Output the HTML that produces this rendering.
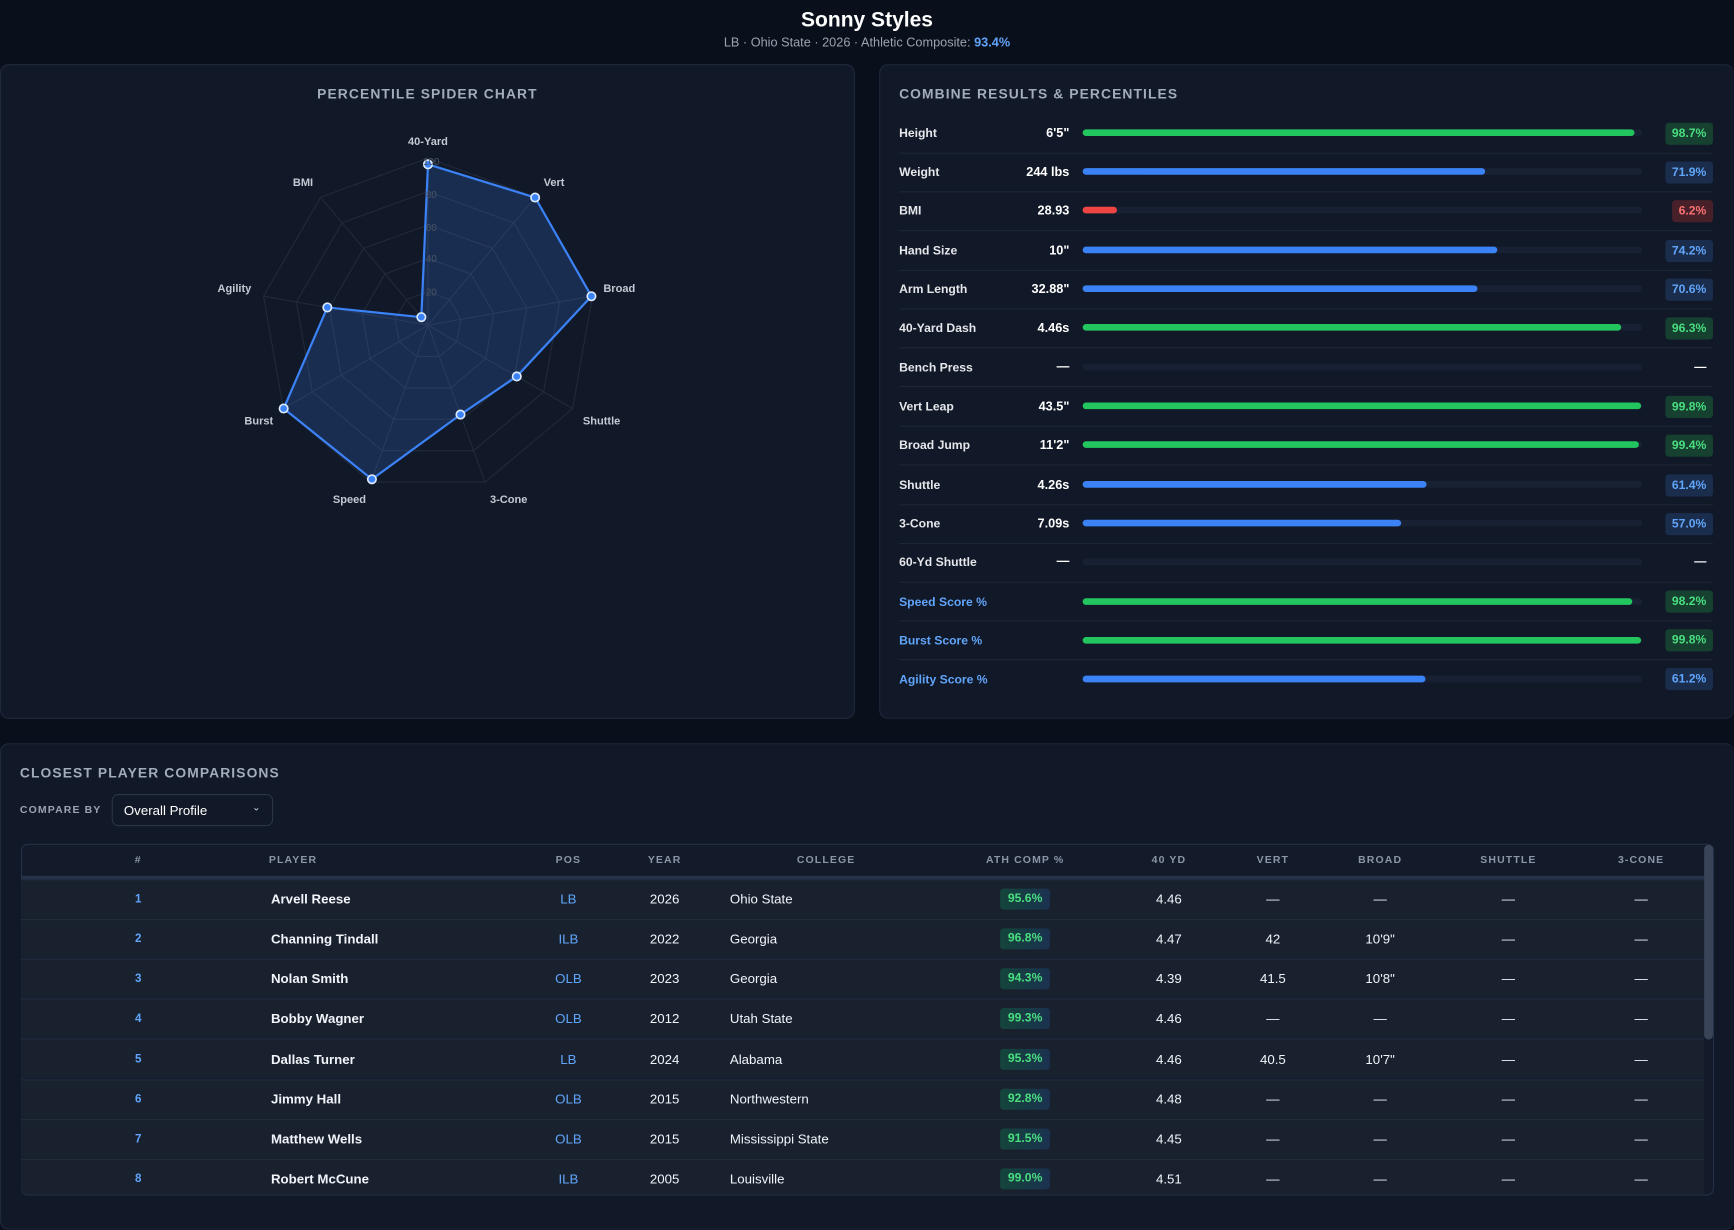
<!DOCTYPE html>
<html><head><meta charset="utf-8">
<style>
*{margin:0;padding:0;box-sizing:border-box}
html,body{width:1734px;height:1214px;overflow:hidden;background:#0a0f1c;font-family:"Liberation Sans",sans-serif}
#w{position:absolute;left:0;top:0;width:1568px;height:1098px;transform:scale(1.10587);transform-origin:0 0;background:#0a0f1c;color:#e5e7eb}
.a{position:absolute;white-space:nowrap}
.panel{position:absolute;background:#111827;border:1px solid #1f2a3d;border-radius:8px}
.ttl{font-size:12.5px;font-weight:bold;letter-spacing:1px;color:#a3acba}
.lab{left:813px;font-size:11px;font-weight:bold;color:#e5e7eb;transform:translateY(-50%)}
.val{right:601px;font-size:11.5px;font-weight:bold;color:#fff;transform:translateY(-50%)}
.trk{left:979px;width:506px;height:6px;border-radius:3px;background:#182033;transform:translateY(-50%)}
.fill{position:absolute;left:0;top:0;height:6px;border-radius:3px}
.bdg{right:19px;height:20px;line-height:20px;padding:0 6px;border-radius:3px;font-size:11px;font-weight:bold;transform:translateY(-50%)}
.g{background:#16402f;color:#4ade80}.b{background:#1b2d4d;color:#60a5fa}.r{background:#47202a;color:#f87171}
.sep{left:813px;width:736px;height:1px;background:#1d2637}
.th{font-size:9.5px;font-weight:bold;letter-spacing:1px;color:#8b95a5;transform:translate(-50%,-50%)}
.td{font-size:12px;color:#f1f5f9;transform:translate(-50%,-50%)}
.tl{font-size:12px;color:#f1f5f9;transform:translateY(-50%)}
.row{position:absolute;left:19px;width:1522px;height:36px;border-top:1px solid #222c3f;background:#19212f}
.pb{font-size:11px;font-weight:bold;color:#4ade80;background:linear-gradient(90deg,#14453a,#1b3150);padding:0 7px;height:19px;line-height:19px;border-radius:3px;transform:translate(-50%,-50%)}
</style></head><body><div id="w">
<div class="a" style="left:0;width:1568px;top:8px;text-align:center;font-size:19px;font-weight:bold;color:#fff">Sonny Styles</div>
<div class="a" style="left:0;width:1568px;top:33px;text-align:center;font-size:11.5px;color:#9ca3af">LB · Ohio State · 2026 · Athletic Composite: <b style="color:#60a5fa">93.4%</b></div>

<div class="panel" style="left:0;top:58px;width:773px;height:592px"></div>
<div class="a ttl" style="left:0;width:773px;top:78px;text-align:center">PERCENTILE SPIDER CHART</div>
<svg class="a" style="left:0;top:0" width="773" height="650">
<g transform="translate(387,294)" fill="none" stroke="#222a3a" stroke-width="1">
<polygon vector-effect="non-scaling-stroke" transform="scale(.302)" points="0,-100 64.28,-76.6 98.48,-17.36 86.6,50 34.2,93.97 -34.2,93.97 -86.6,50 -98.48,-17.36 -64.28,-76.6"/>
<polygon vector-effect="non-scaling-stroke" transform="scale(.604)" points="0,-100 64.28,-76.6 98.48,-17.36 86.6,50 34.2,93.97 -34.2,93.97 -86.6,50 -98.48,-17.36 -64.28,-76.6"/>
<polygon vector-effect="non-scaling-stroke" transform="scale(.906)" points="0,-100 64.28,-76.6 98.48,-17.36 86.6,50 34.2,93.97 -34.2,93.97 -86.6,50 -98.48,-17.36 -64.28,-76.6"/>
<polygon vector-effect="non-scaling-stroke" transform="scale(1.208)" points="0,-100 64.28,-76.6 98.48,-17.36 86.6,50 34.2,93.97 -34.2,93.97 -86.6,50 -98.48,-17.36 -64.28,-76.6"/>
<polygon vector-effect="non-scaling-stroke" transform="scale(1.51)" points="0,-100 64.28,-76.6 98.48,-17.36 86.6,50 34.2,93.97 -34.2,93.97 -86.6,50 -98.48,-17.36 -64.28,-76.6"/>
<path d="M0 0L0 -151M0 0L97.1 -115.7M0 0L148.7 -26.2M0 0L130.8 75.5M0 0L51.6 141.9M0 0L-51.6 141.9M0 0L-130.8 75.5M0 0L-148.7 -26.2M0 0L-97.1 -115.7"/>
<polygon points="0,-145.4 96.9,-115.4 147.8,-26.1 80.3,46.4 29.4,80.9 -50.7,139.4 -130.5,75.4 -91,-16 -6,-7.2" fill="rgba(59,130,246,0.2)" stroke="#3b82f6" stroke-width="2" stroke-linejoin="round"/>
<g fill="#3b82f6" stroke="#dbeafe" stroke-width="1.5">
<circle cx="0" cy="-145.4" r="3.8"/><circle cx="96.9" cy="-115.4" r="3.8"/><circle cx="147.8" cy="-26.1" r="3.8"/><circle cx="80.3" cy="46.4" r="3.8"/><circle cx="29.4" cy="80.9" r="3.8"/><circle cx="-50.7" cy="139.4" r="3.8"/><circle cx="-130.5" cy="75.4" r="3.8"/><circle cx="-91" cy="-16" r="3.8"/><circle cx="-6" cy="-7.2" r="3.8"/>
</g>
</g>
<g font-family="Liberation Sans" font-size="9" fill="#4b5563" text-anchor="middle">
<text x="390" y="267">20</text><text x="390" y="237">40</text><text x="390" y="209">60</text><text x="390" y="179">80</text><text x="390" y="149">100</text>
</g>
<g font-family="Liberation Sans" font-size="10" font-weight="bold" fill="#c4cad4" text-anchor="middle">
<text x="387" y="131">40-Yard</text><text x="501" y="168">Vert</text><text x="560" y="264">Broad</text><text x="544" y="384">Shuttle</text><text x="460" y="455">3-Cone</text><text x="316" y="455">Speed</text><text x="234" y="384">Burst</text><text x="212" y="264">Agility</text><text x="274" y="168">BMI</text>
</g>
</svg>

<div class="panel" style="left:795px;top:58px;width:773px;height:592px;border-right:none"></div>
<div class="a ttl" style="left:813px;top:78px">COMBINE RESULTS &amp; PERCENTILES</div>

<div class="a lab" style="top:121px">Height</div><div class="a val" style="top:121px">6'5"</div><div class="a trk" style="top:120px"><div class="fill" style="width:98.7%;background:#22c55e"></div></div><div class="a bdg g" style="top:121px">98.7%</div><div class="a sep" style="top:138px"></div>
<div class="a lab" style="top:156px">Weight</div><div class="a val" style="top:156px">244 lbs</div><div class="a trk" style="top:155px"><div class="fill" style="width:71.9%;background:#3b82f6"></div></div><div class="a bdg b" style="top:156px">71.9%</div><div class="a sep" style="top:173px"></div>
<div class="a lab" style="top:191px">BMI</div><div class="a val" style="top:191px">28.93</div><div class="a trk" style="top:190px"><div class="fill" style="width:6.2%;background:#ef4444"></div></div><div class="a bdg r" style="top:191px">6.2%</div><div class="a sep" style="top:208px"></div>
<div class="a lab" style="top:227px">Hand Size</div><div class="a val" style="top:227px">10"</div><div class="a trk" style="top:226px"><div class="fill" style="width:74.2%;background:#3b82f6"></div></div><div class="a bdg b" style="top:227px">74.2%</div><div class="a sep" style="top:244px"></div>
<div class="a lab" style="top:262px">Arm Length</div><div class="a val" style="top:262px">32.88"</div><div class="a trk" style="top:261px"><div class="fill" style="width:70.6%;background:#3b82f6"></div></div><div class="a bdg b" style="top:262px">70.6%</div><div class="a sep" style="top:279px"></div>
<div class="a lab" style="top:297px">40-Yard Dash</div><div class="a val" style="top:297px">4.46s</div><div class="a trk" style="top:296px"><div class="fill" style="width:96.3%;background:#22c55e"></div></div><div class="a bdg g" style="top:297px">96.3%</div><div class="a sep" style="top:314px"></div>
<div class="a lab" style="top:333px">Bench Press</div><div class="a val" style="top:332px">—</div><div class="a trk" style="top:332px"></div><div class="a bdg" style="top:332px;color:#fff">—</div><div class="a sep" style="top:349px"></div>
<div class="a lab" style="top:368px">Vert Leap</div><div class="a val" style="top:368px">43.5"</div><div class="a trk" style="top:367px"><div class="fill" style="width:99.8%;background:#22c55e"></div></div><div class="a bdg g" style="top:368px">99.8%</div><div class="a sep" style="top:385px"></div>
<div class="a lab" style="top:403px">Broad Jump</div><div class="a val" style="top:403px">11'2"</div><div class="a trk" style="top:402px"><div class="fill" style="width:99.4%;background:#22c55e"></div></div><div class="a bdg g" style="top:403px">99.4%</div><div class="a sep" style="top:420px"></div>
<div class="a lab" style="top:439px">Shuttle</div><div class="a val" style="top:439px">4.26s</div><div class="a trk" style="top:438px"><div class="fill" style="width:61.4%;background:#3b82f6"></div></div><div class="a bdg b" style="top:439px">61.4%</div><div class="a sep" style="top:456px"></div>
<div class="a lab" style="top:474px">3-Cone</div><div class="a val" style="top:474px">7.09s</div><div class="a trk" style="top:473px"><div class="fill" style="width:57%;background:#3b82f6"></div></div><div class="a bdg b" style="top:474px">57.0%</div><div class="a sep" style="top:491px"></div>
<div class="a lab" style="top:509px">60-Yd Shuttle</div><div class="a val" style="top:508px">—</div><div class="a trk" style="top:508px"></div><div class="a bdg" style="top:508px;color:#fff">—</div><div class="a sep" style="top:526px"></div>
<div class="a lab" style="top:545px;color:#60a5fa">Speed Score %</div><div class="a trk" style="top:544px"><div class="fill" style="width:98.2%;background:#22c55e"></div></div><div class="a bdg g" style="top:544px">98.2%</div><div class="a sep" style="top:561px"></div>
<div class="a lab" style="top:580px;color:#60a5fa">Burst Score %</div><div class="a trk" style="top:579px"><div class="fill" style="width:99.8%;background:#22c55e"></div></div><div class="a bdg g" style="top:579px">99.8%</div><div class="a sep" style="top:596px"></div>
<div class="a lab" style="top:615px;color:#60a5fa">Agility Score %</div><div class="a trk" style="top:614px"><div class="fill" style="width:61.2%;background:#3b82f6"></div></div><div class="a bdg b" style="top:614px">61.2%</div>

<div class="panel" style="left:0;top:672px;width:1568px;height:440px;border-right:none"></div>
<div class="a ttl" style="left:18px;top:692px">CLOSEST PLAYER COMPARISONS</div>
<div class="a" style="left:18px;top:727px;font-size:9.5px;font-weight:bold;letter-spacing:1px;color:#9ca3af">COMPARE BY</div>
<div class="a" style="left:101px;top:718px;width:146px;height:29px;border:1px solid #2a3548;border-radius:6px;background:#111827"></div>
<div class="a" style="left:112px;top:726px;font-size:12px;color:#fff">Overall Profile</div>
<div class="a" style="left:228px;top:725px;font-size:9px;color:#cbd5e1">⌄</div>

<div class="a" style="left:19px;top:763px;width:1531px;height:318px;border:1px solid #243047;border-radius:6px;background:#131b2b;overflow:hidden">
</div>
<div class="a" style="left:19px;top:792px;width:1522px;height:3px;background:#26324a"></div>
<div class="row" style="top:795px"></div>
<div class="row" style="top:831px"></div>
<div class="row" style="top:867px"></div>
<div class="row" style="top:903px"></div>
<div class="row" style="top:939px"></div>
<div class="row" style="top:976px"></div>
<div class="row" style="top:1012px"></div>
<div class="row" style="top:1048px;height:32px;border-bottom-left-radius:6px"></div>
<div class="a" style="left:1541px;top:764px;width:8px;height:176px;border-radius:4px;background:#3a4458"></div>

<div class="a th" style="left:125px;top:778px">#</div>
<div class="a th" style="left:265px;top:778px">PLAYER</div>
<div class="a th" style="left:514px;top:778px">POS</div>
<div class="a th" style="left:601px;top:778px">YEAR</div>
<div class="a th" style="left:747px;top:778px">COLLEGE</div>
<div class="a th" style="left:927px;top:778px">ATH COMP %</div>
<div class="a th" style="left:1057px;top:778px">40 YD</div>
<div class="a th" style="left:1151px;top:778px">VERT</div>
<div class="a th" style="left:1248px;top:778px">BROAD</div>
<div class="a th" style="left:1364px;top:778px">SHUTTLE</div>
<div class="a th" style="left:1484px;top:778px">3-CONE</div>

<div class="a td" style="left:125px;top:813px;color:#60a5fa;font-size:10.5px;font-weight:bold">1</div><div class="a tl" style="left:245px;top:813px;font-weight:bold">Arvell Reese</div><div class="a td" style="left:514px;top:813px;color:#60a5fa">LB</div><div class="a td" style="left:601px;top:813px">2026</div><div class="a tl" style="left:660px;top:813px">Ohio State</div><div class="a pb" style="left:927px;top:813px">95.6%</div><div class="a td" style="left:1057px;top:813px">4.46</div><div class="a td" style="left:1151px;top:813px">—</div><div class="a td" style="left:1248px;top:813px">—</div><div class="a td" style="left:1364px;top:813px">—</div><div class="a td" style="left:1484px;top:813px">—</div>
<div class="a td" style="left:125px;top:849px;color:#60a5fa;font-size:10.5px;font-weight:bold">2</div><div class="a tl" style="left:245px;top:849px;font-weight:bold">Channing Tindall</div><div class="a td" style="left:514px;top:849px;color:#60a5fa">ILB</div><div class="a td" style="left:601px;top:849px">2022</div><div class="a tl" style="left:660px;top:849px">Georgia</div><div class="a pb" style="left:927px;top:849px">96.8%</div><div class="a td" style="left:1057px;top:849px">4.47</div><div class="a td" style="left:1151px;top:849px">42</div><div class="a td" style="left:1248px;top:849px">10'9"</div><div class="a td" style="left:1364px;top:849px">—</div><div class="a td" style="left:1484px;top:849px">—</div>
<div class="a td" style="left:125px;top:885px;color:#60a5fa;font-size:10.5px;font-weight:bold">3</div><div class="a tl" style="left:245px;top:885px;font-weight:bold">Nolan Smith</div><div class="a td" style="left:514px;top:885px;color:#60a5fa">OLB</div><div class="a td" style="left:601px;top:885px">2023</div><div class="a tl" style="left:660px;top:885px">Georgia</div><div class="a pb" style="left:927px;top:885px">94.3%</div><div class="a td" style="left:1057px;top:885px">4.39</div><div class="a td" style="left:1151px;top:885px">41.5</div><div class="a td" style="left:1248px;top:885px">10'8"</div><div class="a td" style="left:1364px;top:885px">—</div><div class="a td" style="left:1484px;top:885px">—</div>
<div class="a td" style="left:125px;top:921px;color:#60a5fa;font-size:10.5px;font-weight:bold">4</div><div class="a tl" style="left:245px;top:921px;font-weight:bold">Bobby Wagner</div><div class="a td" style="left:514px;top:921px;color:#60a5fa">OLB</div><div class="a td" style="left:601px;top:921px">2012</div><div class="a tl" style="left:660px;top:921px">Utah State</div><div class="a pb" style="left:927px;top:921px">99.3%</div><div class="a td" style="left:1057px;top:921px">4.46</div><div class="a td" style="left:1151px;top:921px">—</div><div class="a td" style="left:1248px;top:921px">—</div><div class="a td" style="left:1364px;top:921px">—</div><div class="a td" style="left:1484px;top:921px">—</div>
<div class="a td" style="left:125px;top:958px;color:#60a5fa;font-size:10.5px;font-weight:bold">5</div><div class="a tl" style="left:245px;top:958px;font-weight:bold">Dallas Turner</div><div class="a td" style="left:514px;top:958px;color:#60a5fa">LB</div><div class="a td" style="left:601px;top:958px">2024</div><div class="a tl" style="left:660px;top:958px">Alabama</div><div class="a pb" style="left:927px;top:958px">95.3%</div><div class="a td" style="left:1057px;top:958px">4.46</div><div class="a td" style="left:1151px;top:958px">40.5</div><div class="a td" style="left:1248px;top:958px">10'7"</div><div class="a td" style="left:1364px;top:958px">—</div><div class="a td" style="left:1484px;top:958px">—</div>
<div class="a td" style="left:125px;top:994px;color:#60a5fa;font-size:10.5px;font-weight:bold">6</div><div class="a tl" style="left:245px;top:994px;font-weight:bold">Jimmy Hall</div><div class="a td" style="left:514px;top:994px;color:#60a5fa">OLB</div><div class="a td" style="left:601px;top:994px">2015</div><div class="a tl" style="left:660px;top:994px">Northwestern</div><div class="a pb" style="left:927px;top:994px">92.8%</div><div class="a td" style="left:1057px;top:994px">4.48</div><div class="a td" style="left:1151px;top:994px">—</div><div class="a td" style="left:1248px;top:994px">—</div><div class="a td" style="left:1364px;top:994px">—</div><div class="a td" style="left:1484px;top:994px">—</div>
<div class="a td" style="left:125px;top:1030px;color:#60a5fa;font-size:10.5px;font-weight:bold">7</div><div class="a tl" style="left:245px;top:1030px;font-weight:bold">Matthew Wells</div><div class="a td" style="left:514px;top:1030px;color:#60a5fa">OLB</div><div class="a td" style="left:601px;top:1030px">2015</div><div class="a tl" style="left:660px;top:1030px">Mississippi State</div><div class="a pb" style="left:927px;top:1030px">91.5%</div><div class="a td" style="left:1057px;top:1030px">4.45</div><div class="a td" style="left:1151px;top:1030px">—</div><div class="a td" style="left:1248px;top:1030px">—</div><div class="a td" style="left:1364px;top:1030px">—</div><div class="a td" style="left:1484px;top:1030px">—</div>
<div class="a td" style="left:125px;top:1066px;color:#60a5fa;font-size:10.5px;font-weight:bold">8</div><div class="a tl" style="left:245px;top:1066px;font-weight:bold">Robert McCune</div><div class="a td" style="left:514px;top:1066px;color:#60a5fa">ILB</div><div class="a td" style="left:601px;top:1066px">2005</div><div class="a tl" style="left:660px;top:1066px">Louisville</div><div class="a pb" style="left:927px;top:1066px">99.0%</div><div class="a td" style="left:1057px;top:1066px">4.51</div><div class="a td" style="left:1151px;top:1066px">—</div><div class="a td" style="left:1248px;top:1066px">—</div><div class="a td" style="left:1364px;top:1066px">—</div><div class="a td" style="left:1484px;top:1066px">—</div>
</div></body></html>
